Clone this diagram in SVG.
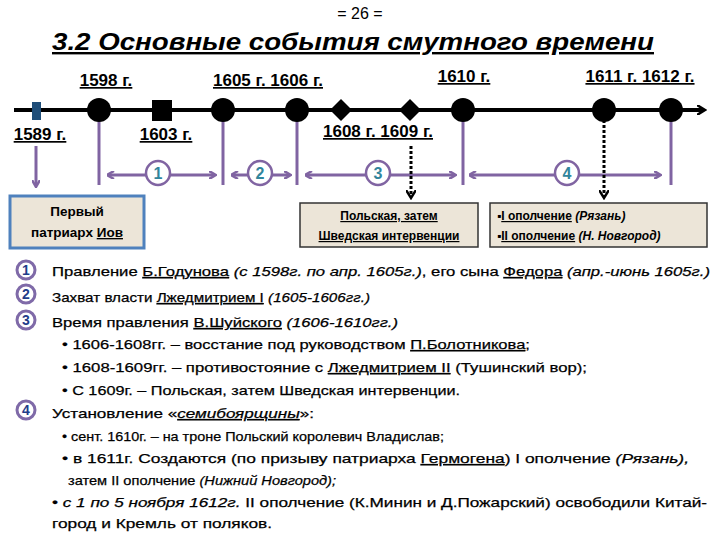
<svg xmlns="http://www.w3.org/2000/svg" width="720" height="540" viewBox="0 0 720 540">
<style>
text{font-family:"Liberation Sans",Arial,sans-serif;fill:#000}
.yr{font-size:17px;text-decoration:underline;text-anchor:middle;font-weight:bold}
.body{font-size:13.5px;stroke:#000;stroke-width:0.25}
.u{text-decoration:underline}
.i{font-style:italic}
.pl{stroke:#8064a2;stroke-width:3;fill:none}
.num{fill:#fff;stroke:#8064a2;stroke-width:2.5}
.numt{font-size:16px;fill:#31859c;text-anchor:middle;font-weight:bold}
.dot{stroke:#000;stroke-width:3;stroke-dasharray:3,2;fill:none}
.ic{fill:#fff;stroke:#7f6aa8;stroke-width:3}
.ict{font-size:14px;fill:#1f3d8a;text-anchor:middle;font-weight:bold}
.bx{font-size:12px;font-weight:bold}
</style>
<defs>
<marker id="pa" markerWidth="8" markerHeight="8" refX="6" refY="4" orient="auto" markerUnits="userSpaceOnUse"><path d="M0,0 L7,4 L0,8" fill="none" stroke="#8064a2" stroke-width="2.5"/></marker>
<marker id="pas" markerWidth="8" markerHeight="8" refX="1" refY="4" orient="auto" markerUnits="userSpaceOnUse"><path d="M7,0 L0,4 L7,8" fill="none" stroke="#8064a2" stroke-width="2.5"/></marker>
<marker id="ba" markerWidth="10" markerHeight="10" refX="7" refY="5" orient="auto" markerUnits="userSpaceOnUse"><path d="M0,0 L8,5 L0,10" fill="none" stroke="#000" stroke-width="2.5"/></marker>
</defs>
<rect width="720" height="540" fill="#fff"/>
<text x="360" y="19" font-size="16" text-anchor="middle">= 26 =</text>
<text x="52" y="50" font-size="24" font-weight="bold" font-style="italic" fill="#1a1a1a" text-decoration="underline" textLength="602" lengthAdjust="spacingAndGlyphs">3.2 Основные события смутного времени</text>

<g id="connectors">
<line x1="14" y1="110" x2="704" y2="110" stroke="#000" stroke-width="4" marker-end="url(#ba)"/>
<line class="pl" x1="99" y1="110" x2="99" y2="185"/>
<line class="pl" x1="223" y1="110" x2="223" y2="185"/>
<line class="pl" x1="297" y1="110" x2="297" y2="185"/>
<line class="pl" x1="463" y1="110" x2="463" y2="185"/>
<line class="pl" x1="671" y1="110" x2="671" y2="185"/>
<line class="pl" x1="36" y1="146" x2="36" y2="186" marker-end="url(#pa)"/>
<line class="pl" x1="108" y1="175" x2="215" y2="175" marker-start="url(#pas)" marker-end="url(#pa)"/>
<line class="pl" x1="232" y1="175" x2="290" y2="175" marker-start="url(#pas)" marker-end="url(#pa)"/>
<line class="pl" x1="306" y1="175" x2="455" y2="175" marker-start="url(#pas)" marker-end="url(#pa)"/>
<line class="pl" x1="470" y1="175" x2="660" y2="175" marker-start="url(#pas)" marker-end="url(#pa)"/>
<line class="dot" x1="411" y1="146" x2="411" y2="197" marker-end="url(#ba)"/>
<line class="dot" x1="604" y1="120" x2="604" y2="197" marker-end="url(#ba)"/>
</g>

<g id="markers">
<rect x="32" y="102" width="9" height="18" fill="#1f4e79"/>
<circle cx="99" cy="110" r="12"/>
<rect x="152" y="100" width="20" height="21"/>
<circle cx="223" cy="110" r="12"/>
<circle cx="297" cy="110" r="12"/>
<path d="M341,99 L352,110 L341,121 L330,110 Z"/>
<path d="M410,99 L421,110 L410,121 L399,110 Z"/>
<circle cx="463" cy="110" r="12"/>
<circle cx="604" cy="110" r="12"/>
<circle cx="671" cy="110" r="12"/>
</g>

<g id="years">
<text class="yr" x="106" y="86">1598 г.</text>
<text class="yr" x="268" y="86">1605 г. 1606 г.</text>
<text class="yr" x="464" y="82">1610 г.</text>
<text class="yr" x="640" y="82">1611 г. 1612 г.</text>
<text class="yr" x="40" y="140" font-size="15">1589 г.</text>
<text class="yr" x="166" y="140" font-size="15">1603 г.</text>
<text class="yr" x="378" y="137" font-size="15">1608 г.  1609 г.</text>
</g>

<g id="period1"><circle class="num" cx="158" cy="173" r="12"/><text class="numt" x="158" y="179">1</text></g>
<g id="period2"><circle class="num" cx="260" cy="173" r="12"/><text class="numt" x="260" y="179">2</text></g>
<g id="period3"><circle class="num" cx="378" cy="173" r="12"/><text class="numt" x="378" y="179">3</text></g>
<g id="period4"><circle class="num" cx="567" cy="173" r="12"/><text class="numt" x="567" y="179">4</text></g>

<g id="box-iov">
<rect x="10" y="196" width="134" height="52" fill="#ece5d8" stroke="#4f81bd" stroke-width="3"/>
<text x="77" y="216" font-size="13.5" font-weight="bold" text-anchor="middle">Первый</text>
<text x="77" y="237" font-size="13.5" font-weight="bold" text-anchor="middle">патриарх <tspan class="u">Иов</tspan></text>
</g>
<g id="box-interv">
<rect x="300" y="203" width="178" height="44" fill="#ece5d8" stroke="#333" stroke-width="1.5"/>
<text x="389" y="220" text-anchor="middle" class="bx u">Польская, затем</text>
<text x="389" y="240" text-anchor="middle" class="bx u">Шведская интервенции</text>
</g>
<g id="box-opol">
<rect x="490" y="203" width="217" height="44" fill="#ece5d8" stroke="#333" stroke-width="1.5"/>
<text x="497" y="220" class="bx">▪<tspan class="u">I ополчение</tspan> <tspan class="i">(Рязань)</tspan></text>
<text x="497" y="240" class="bx">▪<tspan class="u">II ополчение</tspan> <tspan class="i">(Н. Новгород)</tspan></text>
</g>

<g id="icons">
<circle class="ic" cx="26" cy="270" r="9"/><text class="ict" x="26" y="275">1</text>
<circle class="ic" cx="26" cy="294" r="9"/><text class="ict" x="26" y="299">2</text>
<circle class="ic" cx="26" cy="320" r="9"/><text class="ict" x="26" y="325">3</text>
<circle class="ic" cx="26" cy="410" r="9"/><text class="ict" x="26" y="415">4</text>
</g>

<g id="body">
<text class="body" x="52" y="276" textLength="658" lengthAdjust="spacingAndGlyphs">Правление <tspan class="u">Б.Годунова</tspan> <tspan class="i">(с 1598г. по апр. 1605г.)</tspan>, его сына <tspan class="u">Федора</tspan> <tspan class="i">(апр.-июнь 1605г.)</tspan></text>
<text class="body" x="52" y="302" textLength="318" lengthAdjust="spacingAndGlyphs">Захват власти <tspan class="u">Лжедмитрием I</tspan> <tspan class="i">(1605-1606гг.)</tspan></text>
<text class="body" x="52" y="327" textLength="346" lengthAdjust="spacingAndGlyphs">Время правления <tspan class="u">В.Шуйского</tspan> <tspan class="i">(1606-1610гг.)</tspan></text>
<text class="body" x="62" y="349" textLength="468" lengthAdjust="spacingAndGlyphs">• 1606-1608гг. – восстание под руководством <tspan class="u">П.Болотникова</tspan>;</text>
<text class="body" x="62" y="372" textLength="525" lengthAdjust="spacingAndGlyphs">• 1608-1609гг. – противостояние с <tspan class="u">Лжедмитрием II</tspan> (Тушинский вор);</text>
<text class="body" x="62" y="395" textLength="398" lengthAdjust="spacingAndGlyphs">• С 1609г. – Польская, затем Шведская интервенции.</text>
<text class="body" x="52" y="418" textLength="262" lengthAdjust="spacingAndGlyphs">Установление «<tspan class="u i">семибоярщины</tspan>»:</text>
<text class="body" x="62" y="441" textLength="382" lengthAdjust="spacingAndGlyphs" font-size="14">• сент. 1610г. – на троне Польский королевич Владислав;</text>
<text class="body" x="62" y="463" textLength="627" lengthAdjust="spacingAndGlyphs">• в 1611г. Создаются (по призыву патриарха <tspan class="u">Гермогена</tspan>) I ополчение <tspan class="i">(Рязань),</tspan></text>
<text class="body" x="68" y="485" textLength="268" lengthAdjust="spacingAndGlyphs" font-size="14">затем II ополчение <tspan class="i">(Нижний Новгород);</tspan></text>
<text class="body" x="52" y="507" textLength="655" lengthAdjust="spacingAndGlyphs">• <tspan class="i">с 1 по 5 ноября 1612г.</tspan> II ополчение  (К.Минин и Д.Пожарский) освободили Китай-</text>
<text class="body" x="52" y="528" textLength="220" lengthAdjust="spacingAndGlyphs">город и Кремль от поляков.</text>
</g>
</svg>
